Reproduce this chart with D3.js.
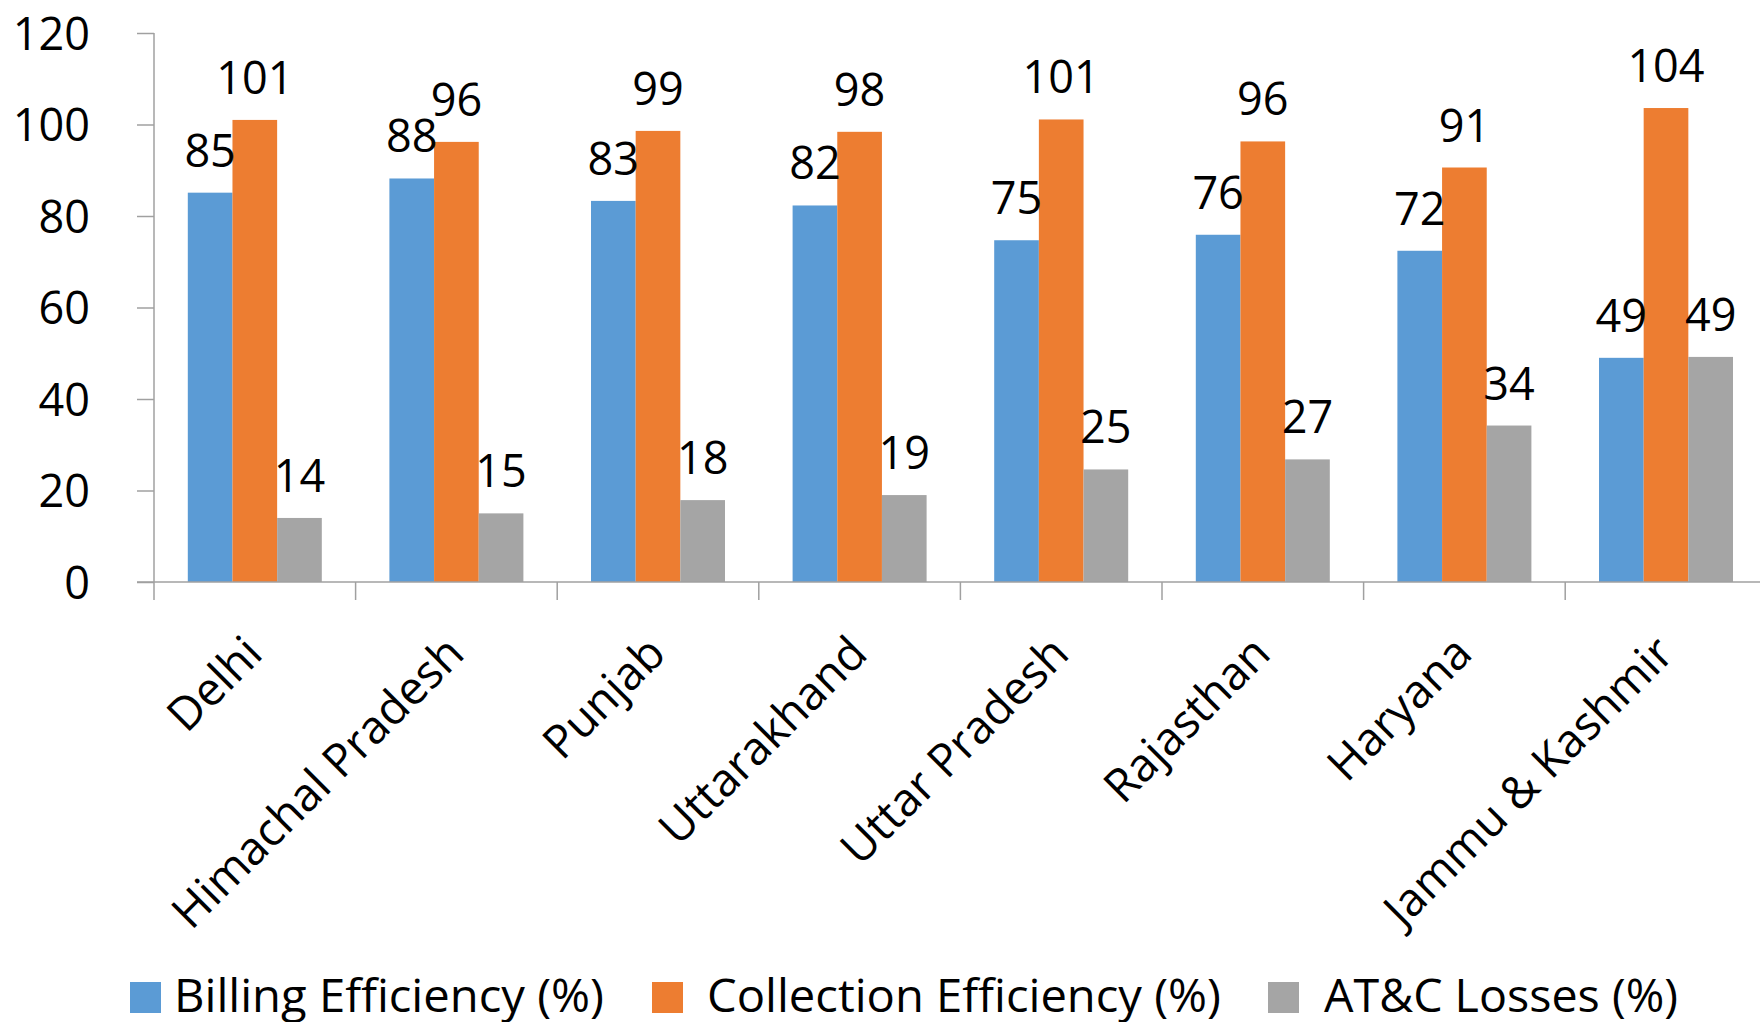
<!DOCTYPE html>
<html>
<head>
<meta charset="utf-8">
<script src="https://cdn.jsdelivr.net/npm/d3@7"></script>
<style>
  body { margin: 0; background: #fff; }
  text { font-family: "Open Sans", sans-serif; fill: #000; }
</style>
</head>
<body>
<div id="grafico"></div>
<script>
// Datos
var estados = ["Delhi", "Himachal Pradesh", "Punjab", "Uttarakhand", "Uttar Pradesh", "Rajasthan", "Haryana", "Jammu & Kashmir"];
var billing = [85.1, 88.2, 83.3, 82.3, 74.7, 75.9, 72.4, 49.0];
var collection = [101.0, 96.2, 98.6, 98.4, 101.1, 96.3, 90.6, 103.6];
var perdidas = [14.0, 15.0, 17.9, 19.0, 24.6, 26.8, 34.2, 49.2];
var seriesNombres = ["Billing Efficiency (%)", "Collection Efficiency (%)", "AT&C Losses (%)"];
var yTicks = [0, 20, 40, 60, 80, 100, 120];

var colores = ["#5b9bd5", "#ed7d31", "#a5a5a5"];
var colorEje = "#a0a0a0";

var ancho = 1760, alto = 1022;
var izq = 154, base = 582, arriba = 33, paso = 201.6;

var svg = d3.select("#grafico").append("svg")
    .attr("width", ancho)
    .attr("height", alto);

var x = d3.scaleBand()
    .domain(estados)
    .range([izq, izq + paso * estados.length])
    .padding(0);

var y = d3.scaleLinear()
    .domain([0, 120])
    .range([base, arriba]);

// escala interna para las tres series dentro de cada categoría
var margenBanda = 33.8;
var xs = d3.scaleBand()
    .domain([0, 1, 2])
    .range([margenBanda, x.bandwidth() - margenBanda])
    .padding(0);

var filas = estados.map(function (e, i) {
    return { estado: e, valores: [billing[i], collection[i], perdidas[i]] };
});

// Eje Y
var ejeY = svg.append("g")
    .attr("transform", "translate(" + izq + ",0)")
    .call(d3.axisLeft(y).tickValues(yTicks).tickSize(17).tickPadding(47));
ejeY.select(".domain").remove();
ejeY.selectAll(".tick line").attr("stroke", colorEje).attr("stroke-width", 1.5);
ejeY.selectAll(".tick text")
    .attr("font-size", 45)
    .attr("dy", "0.36em")
    .style("font-family", "'Open Sans', sans-serif");
svg.append("line")
    .attr("x1", izq).attr("x2", izq)
    .attr("y1", y(120)).attr("y2", base + 18)
    .attr("stroke", colorEje).attr("stroke-width", 1.5);

// Barras
var grupos = svg.selectAll(".grupo")
    .data(filas)
    .enter()
    .append("g")
    .attr("class", "grupo")
    .attr("transform", function (d) { return "translate(" + x(d.estado) + ",0)"; });

grupos.selectAll("rect")
    .data(function (d) { return d.valores; })
    .enter()
    .append("rect")
    .attr("x", function (v, i) { return xs(i); })
    .attr("y", function (v) { return y(v); })
    .attr("width", xs.bandwidth())
    .attr("height", function (v) { return base - y(v); })
    .attr("fill", function (v, i) { return colores[i]; });

grupos.selectAll(".valor")
    .data(function (d) { return d.valores; })
    .enter()
    .append("text")
    .attr("class", "valor")
    .attr("x", function (v, i) { return xs(i) + xs.bandwidth() / 2; })
    .attr("y", function (v) { return y(v) - 26; })
    .attr("text-anchor", "middle")
    .attr("font-size", 45)
    .text(function (v) { return Math.round(v); });

// Eje X
svg.append("line")
    .attr("x1", izq - 17).attr("x2", izq + paso * estados.length)
    .attr("y1", base).attr("y2", base)
    .attr("stroke", colorEje).attr("stroke-width", 1.5);

svg.selectAll(".marcaX")
    .data(d3.range(1, estados.length + 1))
    .enter()
    .append("line")
    .attr("class", "marcaX")
    .attr("x1", function (i) { return izq + x.step() * i; })
    .attr("x2", function (i) { return izq + x.step() * i; })
    .attr("y1", base).attr("y2", base + 18)
    .attr("stroke", colorEje).attr("stroke-width", 1.5);

svg.selectAll(".etiqueta")
    .data(estados)
    .enter()
    .append("text")
    .attr("class", "etiqueta")
    .attr("text-anchor", "end")
    .attr("font-size", 46)
    .attr("transform", function (d) {
        return "translate(" + (x(d) + x.bandwidth() / 2 + 10) + "," + (base + 74) + ") rotate(-45)";
    })
    .text(function (d) { return d; });

// Leyenda
var leyX = [130, 652, 1268];
var textoX = [174, 707, 1324];
var textoLargo = [430, 514, 354];

var leyenda = svg.selectAll(".leyenda")
    .data(seriesNombres)
    .enter()
    .append("g")
    .attr("class", "leyenda");

leyenda.append("rect")
    .attr("x", function (d, i) { return leyX[i]; })
    .attr("y", 982)
    .attr("width", 31)
    .attr("height", 31)
    .attr("fill", function (d, i) { return colores[i]; });

leyenda.append("text")
    .attr("x", function (d, i) { return textoX[i]; })
    .attr("y", 1012)
    .attr("font-size", 45)
    .attr("textLength", function (d, i) { return textoLargo[i]; })
    .attr("lengthAdjust", "spacingAndGlyphs")
    .text(function (d) { return d; });
</script>
</body>
</html>
